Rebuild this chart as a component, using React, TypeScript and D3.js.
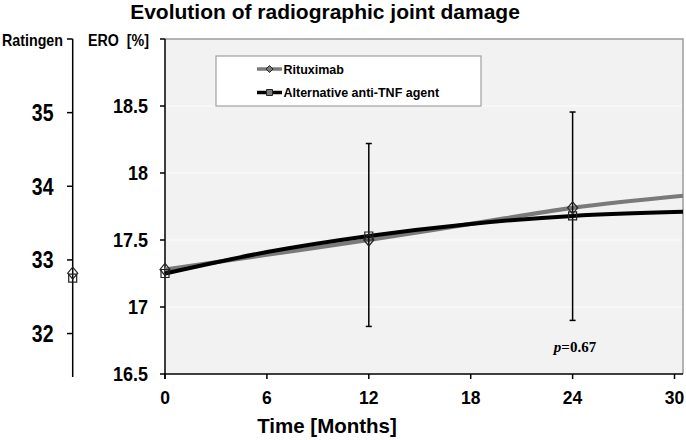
import React from "react";
import * as d3 from "d3";

const months = [0, 12, 24];
const rituximab = [17.28, 17.5, 17.74];
const antiTNF = [17.25, 17.53, 17.68];

const errMonths = [12, 24];
const errUpper = [18.22, 18.455];
const errLower = [16.855, 16.9];

const trendMonths = [0, 6, 12, 18, 24, 30.5];
const rituximabTrend = [17.28, 17.39, 17.5, 17.62, 17.74, 17.83];
const antiTNFTrend = [17.25, 17.41, 17.53, 17.62, 17.68, 17.71];

const ratingenRituximab = 32.82;
const ratingenAntiTNF = 32.78;

const eroTicks = [16.5, 17, 17.5, 18, 18.5, 19];
const ratingenTicks = [32, 33, 34, 35, 36];
const monthTicks = [0, 6, 12, 18, 24, 30];

const seriesNames = ["Rituximab", "Alternative anti-TNF agent"];
const title = "Evolution of radiographic joint damage";
const pValue = "0.67";

const W = 686;
const H = 440;
const FONT = "'Liberation Sans', Arial, sans-serif";

const diamond = (cx: number, cy: number, rx: number, ry: number) =>
  `M${cx},${cy - ry}L${cx + rx},${cy}L${cx},${cy + ry}L${cx - rx},${cy}Z`;
const square = (cx: number, cy: number, r: number) =>
  `M${cx - r},${cy - r}H${cx + r}V${cy + r}H${cx - r}Z`;

export default function App() {
  const x = d3.scaleLinear().domain([0, 30.5]).range([165, 683]);
  const y = d3.scaleLinear().domain([16.5, 19]).range([374, 39]);
  const yR = d3.scaleLinear().domain([31.41, 36]).range([377, 39]);

  const line = d3
    .line<number>()
    .x((_, i) => x(trendMonths[i]))
    .y((d) => y(d))
    .curve(d3.curveMonotoneX);

  const [x0, x1] = x.range();
  const [yb, yt] = y.range();

  return (
    <svg
      width={W}
      height={H}
      style={{ position: "absolute", left: 0, top: 0, background: "#fff" }}
      fontFamily={FONT}
    >
      {/* title */}
      <text x={325} y={19} textAnchor="middle" fontSize={21} fontWeight="bold">
        {title}
      </text>

      {/* plot background */}
      <rect x={x0} y={yt} width={x1 - x0} height={yb - yt} fill="#f2f2f2" />
      {eroTicks
        .filter((t) => t > 16.5 && t < 19)
        .map((t) => (
          <line key={t} x1={x0} x2={x1} y1={y(t)} y2={y(t)} stroke="#f9f9f9" strokeWidth={1.5} />
        ))}
      <path d={`M${x0},${yt}H${x1}V${yb}`} fill="none" stroke="#9a9a9a" strokeWidth={1.5} />

      {/* ERO axis */}
      <line x1={x0} x2={x0} y1={yt} y2={yb + 5} stroke="#000" strokeWidth={1.5} />
      {eroTicks.map((t) => (
        <g key={t}>
          <line x1={x0 - 5} x2={x0} y1={y(t)} y2={y(t)} stroke="#000" strokeWidth={1.5} />
          {t < 19 && (
            <text
              transform={`translate(148,${y(t)}) scale(1,1.08)`}
              dy="0.36em"
              textAnchor="end"
              fontSize={18}
              fontWeight="bold"
            >
              {String(t)}
            </text>
          )}
        </g>
      ))}
      <text
        transform={`translate(88,46) scale(1,1.12)`}
        fontSize={15}
        fontWeight="bold"
        textLength={61}
        lengthAdjust="spacingAndGlyphs"
      >
        {"ERO\u00a0\u00a0[%]"}
      </text>

      {/* Ratingen axis */}
      <line x1={72.7} x2={72.7} y1={yR(36)} y2={yR(31.41)} stroke="#000" strokeWidth={1.5} />
      {ratingenTicks.map((t) => (
        <g key={t}>
          <line x1={67} x2={72.7} y1={yR(t)} y2={yR(t)} stroke="#000" strokeWidth={1.5} />
          {t < 36 && (
            <text
              transform={`translate(53.5,${yR(t)}) scale(1,1.18)`}
              dy="0.36em"
              textAnchor="end"
              fontSize={19.5}
              fontWeight="bold"
            >
              {String(t)}
            </text>
          )}
        </g>
      ))}
      <text
        transform={`translate(2,46) scale(1,1.18)`}
        fontSize={14.3}
        fontWeight="bold"
        textLength={61}
        lengthAdjust="spacingAndGlyphs"
      >
        Ratingen
      </text>
      <path d={diamond(72.7, yR(ratingenRituximab), 5, 6)} fill="none" stroke="#222" strokeWidth={1.2} />
      <path d={square(72.7, yR(ratingenAntiTNF) + 2, 4)} fill="none" stroke="#222" strokeWidth={1.2} />

      {/* X axis */}
      <line x1={x0} x2={x1} y1={yb} y2={yb} stroke="#000" strokeWidth={1.5} />
      {monthTicks.map((t) => (
        <g key={t}>
          <line x1={x(t)} x2={x(t)} y1={yb} y2={yb + 5} stroke="#000" strokeWidth={1.5} />
          <text x={x(t)} y={404} textAnchor="middle" fontSize={17.5} fontWeight="bold">
            {String(t)}
          </text>
        </g>
      ))}
      <text x={327} y={433} textAnchor="middle" fontSize={20.5} fontWeight="bold">
        Time [Months]
      </text>

      {/* trend lines */}
      <path d={line(rituximabTrend) || ""} fill="none" stroke="#7a7a7a" strokeWidth={4.2} />
      <path d={line(antiTNFTrend) || ""} fill="none" stroke="#000" strokeWidth={4} />

      {/* error bars */}
      {errMonths.map((m, i) => (
        <g key={m} stroke="#000" strokeWidth={1.5}>
          <line x1={x(m)} x2={x(m)} y1={y(errUpper[i])} y2={y(errLower[i])} />
          <line x1={x(m) - 3} x2={x(m) + 3} y1={y(errUpper[i])} y2={y(errUpper[i])} />
          <line x1={x(m) - 3} x2={x(m) + 3} y1={y(errLower[i])} y2={y(errLower[i])} />
        </g>
      ))}

      {/* markers */}
      {months.map((m, i) => (
        <path key={"r" + m} d={diamond(x(m), y(rituximab[i]), 5, 6)} fill="none" stroke="#222" strokeWidth={1.2} />
      ))}
      {months.map((m, i) => (
        <path key={"a" + m} d={square(x(m), y(antiTNF[i]), 4)} fill="none" stroke="#222" strokeWidth={1.2} />
      ))}

      {/* legend */}
      <rect x={216} y={56} width={265} height={50} fill="#fff" stroke="#a0a0a0" strokeWidth={1.2} />
      <line x1={257} x2={282} y1={69} y2={69} stroke="#7a7a7a" strokeWidth={3.5} />
      <path d={diamond(269.5, 69, 3.5, 3.5)} fill="#7a7a7a" stroke="#222" strokeWidth={1} />
      <line x1={257} x2={282} y1={92.5} y2={92.5} stroke="#000" strokeWidth={3.5} />
      <path d={square(269.5, 92.5, 3)} fill="#7a7a7a" stroke="#222" strokeWidth={1} />
      <text x={283.5} y={73.5} fontSize={12.5} fontWeight="bold">
        {seriesNames[0]}
      </text>
      <text x={283.5} y={97} fontSize={12.5} fontWeight="bold">
        {seriesNames[1]}
      </text>

      {/* p value */}
      <text x={575} y={352} textAnchor="middle" fontSize={15} fontFamily="'Liberation Serif', 'Times New Roman', serif" fontWeight="bold">
        <tspan fontStyle="italic">p</tspan>={pValue}
      </text>
    </svg>
  );
}
